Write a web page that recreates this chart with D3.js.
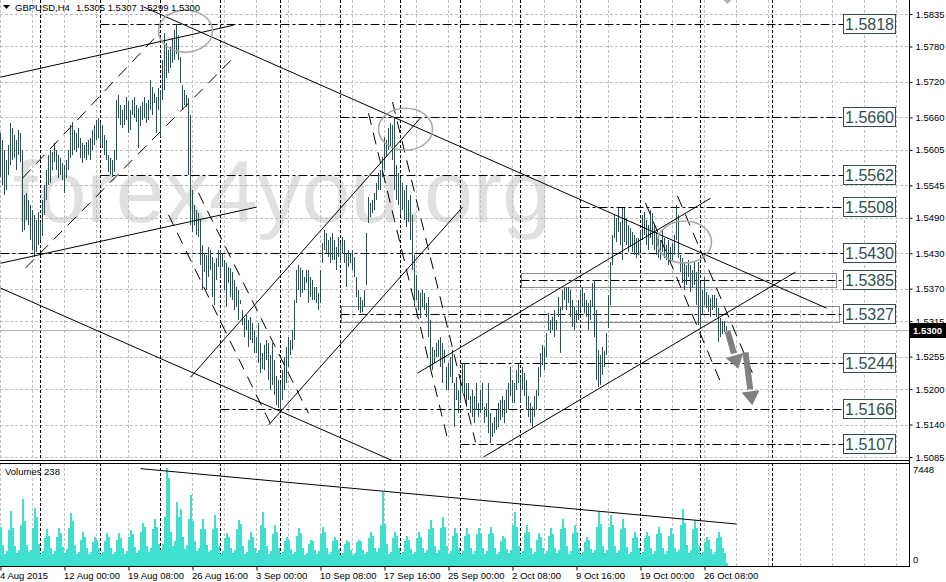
<!DOCTYPE html>
<html><head><meta charset="utf-8">
<script src="https://cdn.jsdelivr.net/npm/d3@7"></script>
<style>
html,body{margin:0;padding:0;background:#fff;}
svg{display:block;font-family:"Liberation Sans",Arial,sans-serif;}
</style></head><body>
<svg id="c" width="946" height="582"></svg>
<script>
// ---------- DATA ----------
const symbolTitle = "GBPUSD,H4";
const ohlcTitle = "1.5305 1.5307 1.5299 1.5300";
const lastPrice = 1.5300;

const highs = [
1.5633,1.5622,1.5605,1.5588,1.5613,1.5650,1.5642,1.5630,1.5622,1.5639,1.5634,1.5605,
1.5529,1.5532,1.5520,1.5512,1.5503,1.5495,1.5486,
1.5500,1.5483,1.5520,1.5545,1.5571,1.5596,
1.5605,1.5601,1.5617,1.5605,1.5596,1.5591,1.5583,1.5579,1.5588,1.5605,1.5647,
1.5652,1.5639,1.5634,1.5642,1.5625,1.5617,1.5613,1.5618,1.5622,1.5625,1.5639,1.5647,1.5656,1.5659,1.5652,
1.5647,1.5630,1.5622,1.5596,1.5591,1.5588,1.5605,1.5689,
1.5698,1.5681,1.5672,1.5681,1.5694,1.5688,1.5672,1.5689,1.5694,1.5681,1.5676,1.5679,1.5686,1.5694,
1.5684,1.5689,1.5723,1.5711,1.5701,1.5694,1.5710,1.5706,1.5757,
1.5803,1.5786,1.5774,1.5779,1.5794,1.5808,1.5818,1.5799,1.5762,
1.5715,1.5706,1.5698,1.5693,1.5664,1.5537,
1.5512,1.5503,1.5498,1.5486,1.5444,
1.5430,1.5427,1.5440,1.5435,1.5424,1.5413,1.5422,
1.5435,1.5435,1.5430,1.5418,1.5413,1.5407,1.5405,1.5398,1.5385,
1.5373,1.5368,1.5351,1.5334,1.5320,1.5325,1.5317,1.5322,
1.5312,1.5300,1.5288,1.5312,1.5278,1.5261,1.5275,1.5283,
1.5278,1.5258,1.5278,1.5249,1.5222,1.5215,1.5210,1.5232,1.5254,
1.5271,1.5288,1.5283,1.5300,1.5351,1.5402,1.5410,1.5405,
1.5402,1.5390,1.5402,1.5402,1.5390,1.5385,1.5373,1.5373,1.5363,
1.5402,1.5448,1.5469,1.5464,1.5452,1.5457,1.5464,
1.5452,1.5440,1.5457,1.5448,1.5457,1.5452,1.5430,1.5435,1.5430,
1.5435,1.5424,1.5390,1.5368,1.5356,1.5351,1.5368,
1.5464,1.5525,1.5515,1.5520,1.5532,1.5549,1.5566,
1.5571,1.5593,1.5627,1.5622,1.5642,1.5650,1.5647,1.5659,1.5579,
1.5566,1.5557,1.5549,1.5537,1.5545,1.5520,1.5528,
1.5495,1.5427,1.5393,1.5368,1.5363,
1.5368,1.5363,1.5346,1.5356,1.5317,
1.5271,1.5266,1.5278,1.5283,1.5288,1.5278,1.5266,1.5237,
1.5244,1.5254,1.5266,1.5210,1.5220,1.5198,1.5210,1.5244,
1.5244,1.5210,1.5210,1.5188,1.5198,1.5188,1.5210,1.5176,1.5198,
1.5210,1.5170,1.5176,1.5210,1.5159,1.5143,1.5153,1.5165,1.5176,1.5182,
1.5188,1.5182,1.5198,1.5210,1.5237,1.5215,
1.5210,1.5232,1.5244,1.5220,1.5237,1.5227,1.5215,
1.5188,1.5176,1.5170,1.5188,1.5198,1.5237,1.5261,1.5275,
1.5271,1.5295,1.5329,1.5317,1.5322,1.5334,1.5317,1.5356,1.5339,
1.5368,1.5373,1.5373,1.5373,1.5368,1.5351,1.5339,1.5334,1.5351,
1.5368,1.5373,1.5363,1.5351,1.5346,1.5351,1.5380,1.5385,1.5334,1.5266,
1.5258,1.5271,1.5264,1.5295,1.5359,1.5415,
1.5461,1.5495,1.5489,1.5506,1.5483,1.5506,1.5506,1.5489,1.5478,1.5472,1.5466,1.5461,1.5456,1.5456,1.5469,
1.5495,1.5500,1.5486,1.5478,1.5503,1.5498,1.5478,1.5466,1.5461,1.5452,
1.5469,1.5456,1.5444,1.5452,1.5440,1.5448,1.5461,
1.5512,1.5495,1.5427,
1.5422,1.5415,1.5410,1.5418,1.5410,1.5402,1.5415,1.5398,
1.5415,1.5380,
1.5368,1.5390,1.5364,1.5359,1.5354,1.5359,
1.5359,1.5354,1.5337,1.5320,1.5315,1.5315,1.5307
];
const lows = [
1.5559,1.5546,1.5529,1.5537,1.5562,1.5579,1.5588,1.5591,1.5571,1.5596,1.5584,1.5466,
1.5469,1.5486,1.5478,1.5452,1.5435,1.5424,1.5432,
1.5444,1.5452,1.5459,1.5495,1.5520,1.5545,
1.5549,1.5571,1.5584,1.5571,1.5557,1.5562,1.5554,1.5532,1.5557,1.5571,1.5591,
1.5596,1.5605,1.5601,1.5608,1.5591,1.5583,1.5591,1.5588,1.5596,1.5588,1.5605,1.5613,1.5622,1.5625,1.5613,
1.5608,1.5596,1.5588,1.5567,1.5562,1.5559,1.5567,1.5588,
1.5659,1.5647,1.5642,1.5647,1.5656,1.5634,1.5639,1.5664,1.5659,1.5652,1.5608,1.5645,1.5656,1.5659,
1.5650,1.5656,1.5672,1.5664,1.5684,1.5634,1.5672,1.5627,1.5689,
1.5706,1.5727,1.5735,1.5744,1.5752,1.5757,1.5767,1.5757,1.5718,
1.5672,1.5681,1.5678,1.5562,1.5478,1.5466,
1.5478,1.5461,1.5457,1.5410,1.5368,
1.5398,1.5368,1.5390,1.5402,1.5356,1.5342,1.5385,
1.5407,1.5390,1.5407,1.5368,1.5339,1.5380,1.5356,1.5351,1.5334,
1.5339,1.5317,1.5344,1.5308,1.5288,1.5300,1.5271,1.5283,
1.5278,1.5261,1.5261,1.5244,1.5227,1.5234,1.5232,1.5249,
1.5215,1.5198,1.5207,1.5190,1.5173,1.5168,1.5165,1.5182,1.5198,
1.5210,1.5237,1.5258,1.5266,1.5283,1.5346,1.5368,1.5356,
1.5363,1.5368,1.5380,1.5346,1.5356,1.5351,1.5351,1.5346,1.5334,
1.5346,1.5413,1.5435,1.5430,1.5424,1.5413,1.5418,
1.5418,1.5402,1.5424,1.5413,1.5430,1.5413,1.5373,1.5407,1.5413,
1.5402,1.5390,1.5356,1.5334,1.5329,1.5331,1.5339,
1.5376,1.5481,1.5491,1.5498,1.5503,1.5520,1.5537,
1.5537,1.5559,1.5571,1.5593,1.5605,1.5610,1.5588,1.5537,1.5520,
1.5512,1.5495,1.5503,1.5486,1.5474,1.5483,1.5452,
1.5402,1.5339,1.5351,1.5334,1.5320,
1.5339,1.5334,1.5322,1.5288,1.5237,
1.5232,1.5244,1.5254,1.5254,1.5237,1.5210,1.5244,1.5198,
1.5198,1.5220,1.5210,1.5136,1.5182,1.5159,1.5176,1.5193,
1.5188,1.5170,1.5182,1.5159,1.5153,1.5143,1.5165,1.5153,1.5159,
1.5165,1.5143,1.5153,1.5126,1.5109,1.5119,1.5126,1.5131,1.5136,1.5148,
1.5153,1.5143,1.5159,1.5165,1.5188,1.5176,
1.5176,1.5198,1.5210,1.5176,1.5198,1.5188,1.5165,
1.5153,1.5143,1.5136,1.5153,1.5165,1.5188,1.5220,1.5241,
1.5232,1.5254,1.5300,1.5295,1.5300,1.5288,1.5300,1.5322,1.5261,
1.5334,1.5351,1.5334,1.5346,1.5322,1.5305,1.5300,1.5312,1.5317,
1.5334,1.5339,1.5329,1.5322,1.5300,1.5317,1.5339,1.5288,1.5215,1.5203,
1.5207,1.5224,1.5237,1.5258,1.5303,1.5342,
1.5410,1.5456,1.5449,1.5466,1.5444,1.5418,1.5449,1.5444,1.5432,1.5440,1.5432,1.5427,1.5422,1.5427,1.5435,
1.5452,1.5461,1.5444,1.5435,1.5456,1.5444,1.5435,1.5427,1.5422,1.5418,
1.5432,1.5422,1.5418,1.5410,1.5413,1.5418,1.5427,
1.5452,1.5422,1.5398,
1.5380,1.5368,1.5376,1.5390,1.5364,1.5371,1.5376,1.5342,
1.5308,1.5303,
1.5325,1.5342,1.5337,1.5331,1.5322,1.5334,
1.5337,1.5322,1.5280,1.5288,1.5293,1.5297,1.5299
];
const volumes = [
3000,1600,
950,1150,2700,4200,2900,1500,
1000,1200,3100,5100,3400,1600,
1050,1250,2900,4400,3700,1700,
950,1150,2100,2800,2300,1400,
900,1150,2200,2900,2500,1450,
1000,1300,2900,4000,3400,1600,
950,1100,2000,2600,2200,1400,
900,1050,1800,2200,2000,1350,
950,1100,1900,2500,2200,1400,
900,1050,2000,2500,2100,1350,
950,1150,2200,2700,2400,1450,
1000,1250,2600,3300,3000,1550,
1050,1350,2800,3600,3000,1700,
1200,1700,3700,7448,6700,2600,
1500,1900,4900,3700,4300,2200,
1300,1600,3600,5400,3400,1900,
1150,1350,2800,3600,2800,1600,
1050,1250,2800,3900,2900,1500,
950,1150,2100,2500,2200,1400,
1000,1200,2800,3500,3200,1500,
950,1100,2000,2600,2200,1400,
1000,1250,3100,4100,2900,1500,
950,1150,2400,3100,2600,1400,
900,1050,1900,2200,2000,1300,
950,1100,2300,2900,2500,1400,
850,1000,1700,2000,1900,1250,
950,1150,2400,3000,2600,1400,
900,1050,1900,2200,2000,1300,
850,1000,1700,2000,1800,1250,
850,1000,1800,2000,1900,1250,
900,1100,2100,2600,2300,1350,
1050,1350,3100,5600,3200,1700,
950,1100,2100,2600,2300,1350,
900,1050,1900,2300,2000,1300,
950,1100,2100,2600,2200,1350,
1000,1200,2800,3500,2900,1500,
1000,1250,2900,3700,3000,1500,
950,1150,2300,2900,2500,1400,
950,1150,2300,2900,2400,1400,
950,1150,2400,2900,2500,1400,
950,1150,2400,3000,2500,1400,
900,1050,1900,2300,2100,1300,
1000,1250,3100,4100,3000,1500,
950,1150,2500,3100,2600,1400,
900,1100,2000,2500,2200,1350,
950,1150,2300,2900,2400,1400,
1000,1200,2800,3600,2900,1500,
950,1150,2500,3100,2600,1400,
900,1050,1800,2200,2000,1300,
1000,1250,3000,4100,3200,1500,
1000,1200,3000,3900,3100,1500,
1000,1200,2800,3600,2900,1450,
900,1100,2100,2600,2200,1350,
900,1100,2100,2600,2300,1350,
950,1150,2400,3000,2500,1400,
950,1150,2300,2900,2400,1400,
1050,1250,3100,4300,3300,1600,
1000,1200,2800,3500,2900,1500,
900,1050,1800,2200,2000,1300,
950,1100,2100,2600,2200,1350,
1000,238
];
const volumeTitle = "Volumes 238";
const volumeMax = 7448;

const priceTicks = [1.5835,1.5780,1.5720,1.5660,1.5605,1.5545,1.5490,1.5430,1.5370,1.5315,1.5255,1.5200,1.5140,1.5085];
const timeTickIdx = [0,32,64,96,128,160,192,224,256,288,320,352];
const timeLabels = ["4 Aug 2015","12 Aug 00:00","19 Aug 08:00","26 Aug 16:00","3 Sep 00:00","10 Sep 08:00","17 Sep 16:00","25 Sep 00:00","2 Oct 08:00","9 Oct 16:00","19 Oct 00:00","26 Oct 08:00"];
const weekSeparators = [20,50,80,110,140,170,200,230,260,290,320,350,386];

// horizontal levels: price, start bar index
const levelPrices = [1.5818,1.5660,1.5562,1.5508,1.5430,1.5385,1.5327,1.5244,1.5166,1.5107];
const levelStart  = [50,170,50,290,0,260,170,230,110,230];
// zones: startIdx, endIdx, top price, bottom price
const zones = [[260,417.5,1.5397,1.5373],[170,419,1.5341,1.5314]];
// trend lines (bar index, price, bar index, price)
const trendLines = [
 [0,1.5728,116.5,1.5816],[71.5,1.5847,413,1.5337],[0,1.5371,196.5,1.5078],[0,1.5413,128,1.5508],
 [95,1.5220,210,1.5659],[134,1.5139,231,1.5508],[208.5,1.5227,355,1.5523],[241.5,1.5085,397.5,1.5398]
];
const dashedTrendLines = [
 [12.5,1.5405,116.5,1.5761],[11,1.5557,80,1.5805],[84,1.5495,136,1.5134],[99,1.5532,154,1.5159],
 [184,1.5667,224,1.5109],[196,1.5686,237.5,1.5110],[322.5,1.5515,361,1.5204],[338.5,1.5527,377.5,1.5215]
];
const ellipses = [[92.5,1.5806],[202.5,1.5640],[342,1.5449]];
const arrows = [[363.5,1.5298,367,1.5257],[372.5,1.5262,375,1.5196]];
const volumeTrend = [70,7400,368,3190];

// ---------- CHART ----------
const svg = d3.select("#c");
const PR = 909, MB = 461, VT = 463, VB = 566;
const x = d3.scaleLinear().domain([0,1]).range([0.5,2.5]);
const y = d3.scaleLinear().domain([1.5085,1.5835]).range([457,14]);
const yv = d3.scaleLinear().domain([0,volumeMax]).range([VB,468]);
const crisp = v => Math.round(v)+0.5;

const defs = svg.append("defs");
defs.append("clipPath").attr("id","cm").append("rect").attr("x",0).attr("y",0).attr("width",PR).attr("height",MB);
defs.append("clipPath").attr("id","cv").append("rect").attr("x",0).attr("y",VT).attr("width",PR).attr("height",VB-VT);

svg.append("rect").attr("width",946).attr("height",582).attr("fill","#fff");

const gm = svg.append("g").attr("clip-path","url(#cm)");
const gv = svg.append("g").attr("clip-path","url(#cv)");

// watermark
gm.append("text").attr("x",13).attr("y",222).attr("font-size",88).attr("fill","#e0e0e0")
  .attr("font-family","'Liberation Sans',Arial,sans-serif").text("forex4you.org");

// grid
const gridIdx = d3.range(0,460,16);
[gm,gv].forEach((g,k)=>{
  g.selectAll(null).data(gridIdx).join("line")
   .attr("x1",d=>crisp(x(d)-0.5)).attr("x2",d=>crisp(x(d)-0.5))
   .attr("y1",k?VT:0).attr("y2",k?VB:MB)
   .attr("stroke","#c0c0c0").attr("stroke-dasharray","3,2");
});
gm.selectAll(null).data(priceTicks).join("line")
  .attr("x1",0).attr("x2",PR).attr("y1",d=>crisp(y(d))).attr("y2",d=>crisp(y(d)))
  .attr("stroke","#c0c0c0").attr("stroke-dasharray","3,2");

// week separators
[gm,gv].forEach((g,k)=>{
  g.selectAll(null).data(weekSeparators).join("line")
   .attr("x1",d=>crisp(x(d)-0.5)).attr("x2",d=>crisp(x(d)-0.5))
   .attr("y1",k?VT:0).attr("y2",k?VB:MB)
   .attr("stroke","#000").attr("stroke-dasharray","3,2");
});

// current price line
gm.append("line").attr("x1",0).attr("x2",PR).attr("y1",crisp(y(lastPrice))).attr("y2",crisp(y(lastPrice)))
  .attr("stroke","#b4b4b4");

// zones
gm.selectAll(null).data(zones).join("rect")
  .attr("x",d=>crisp(x(d[0]))).attr("y",d=>crisp(y(d[2])))
  .attr("width",d=>Math.round(x(d[1])-x(d[0]))).attr("height",d=>Math.round(y(d[3])-y(d[2])))
  .attr("fill","none").attr("stroke","#8c8c8c");

// level lines
const boxX = 843;
gm.selectAll(null).data(levelPrices).join("line")
  .attr("x1",(d,i)=>x(levelStart[i])).attr("x2",boxX)
  .attr("y1",d=>crisp(y(d))).attr("y2",d=>crisp(y(d)))
  .attr("stroke","#000").attr("stroke-dasharray","9,3,3,3");

// price bars
const n = Math.min(highs.length, lows.length);
gm.append("g").selectAll("line").data(d3.range(n)).join("line")
  .attr("x1",i=>x(i)).attr("x2",i=>x(i))
  .attr("y1",i=>Math.round(y(highs[i]))).attr("y2",i=>Math.max(Math.round(y(lows[i])),Math.round(y(highs[i]))+1))
  .attr("stroke","#2f4f4f").attr("stroke-width",1);

// trend lines
gm.selectAll(null).data(trendLines).join("line")
  .attr("x1",d=>x(d[0])).attr("y1",d=>y(d[1])).attr("x2",d=>x(d[2])).attr("y2",d=>y(d[3]))
  .attr("stroke","#000").attr("stroke-width",1);
gm.selectAll(null).data(dashedTrendLines).join("line")
  .attr("x1",d=>x(d[0])).attr("y1",d=>y(d[1])).attr("x2",d=>x(d[2])).attr("y2",d=>y(d[3]))
  .attr("stroke","#000").attr("stroke-width",1).attr("stroke-dasharray","12,8");

// ellipses
gm.selectAll(null).data(ellipses).join("ellipse")
  .attr("cx",d=>x(d[0])).attr("cy",d=>y(d[1])).attr("rx",27).attr("ry",21)
  .attr("fill","none").attr("stroke","#a6a6a6").attr("stroke-width",1.5);

// arrows
arrows.forEach((a,k)=>{
  const x1=x(a[0]),y1=y(a[1]),x2=x(a[2]),y2=y(a[3]);
  const L=Math.hypot(x2-x1,y2-y1),ux=(x2-x1)/L,uy=(y2-y1)/L,px=-uy,py=ux;
  const hl=14, hw=9;
  gm.append("line").attr("x1",x1).attr("y1",y1).attr("x2",x2-ux*2).attr("y2",y2-uy*2)
    .attr("stroke","#808080").attr("stroke-width",6);
  gm.append("polygon").attr("points",[[x2+px*hw,y2+py*hw],[x2-px*hw,y2-py*hw],[x2+ux*hl,y2+uy*hl]].map(p=>p.join(",")).join(" "))
    .attr("fill","#808080");
});
gm.append("polygon").attr("points",[[x(361.5),0],[x(365.5),0],[x(363.5),4]].map(p=>p.join(",")).join(" ")).attr("fill","#b0b0b0");

// level boxes
const lb = svg.append("g");
levelPrices.forEach(p=>{
  const cy = Math.round(y(p));
  lb.append("rect").attr("x",boxX+0.5).attr("y",cy-9.5).attr("width",52).attr("height",19)
    .attr("fill","#fff").attr("stroke","#2f4f4f");
  lb.append("text").attr("x",boxX+26.5).attr("y",cy+6).attr("text-anchor","middle")
    .attr("font-size",16).attr("fill","#2f4f4f").text(p.toFixed(4));
});

// volumes
gv.selectAll(null).data(volumes).join("rect")
  .attr("x",(d,i)=>Math.round(x(i)-0.5)).attr("width",2)
  .attr("y",d=>Math.round(yv(d))).attr("height",d=>VB-Math.round(yv(d)))
  .attr("fill","#40e0d0");
gv.append("line").attr("x1",x(volumeTrend[0])).attr("y1",yv(volumeTrend[1]))
  .attr("x2",x(volumeTrend[2])).attr("y2",yv(volumeTrend[3])).attr("stroke","#000");
svg.append("text").attr("x",5).attr("y",475).attr("font-size",9.5).text(volumeTitle);

// frames
svg.append("line").attr("x1",0).attr("x2",PR).attr("y1",MB-0.5).attr("y2",MB-0.5).attr("stroke","#000");
svg.append("line").attr("x1",0).attr("x2",PR).attr("y1",VT+0.5).attr("y2",VT+0.5).attr("stroke","#000");
svg.append("line").attr("x1",0).attr("x2",PR).attr("y1",VB+0.5).attr("y2",VB+0.5).attr("stroke","#000");
svg.append("line").attr("x1",PR+0.5).attr("x2",PR+0.5).attr("y1",0).attr("y2",VB+1).attr("stroke","#000");

// price axis
const ay = svg.append("g").attr("transform",`translate(${PR+0.5},0)`)
  .call(d3.axisRight(y).tickValues(priceTicks).tickFormat(d=>d.toFixed(4)).tickSize(3).tickPadding(3));
ay.select(".domain").remove();
ay.selectAll("text").attr("font-size",9.5).attr("font-family","'Liberation Sans',Arial,sans-serif");

// last price tag
const lpY = Math.round(y(lastPrice));
svg.append("rect").attr("x",PR+1).attr("y",lpY-7).attr("width",946-PR-1).attr("height",15).attr("fill","#000");
svg.append("text").attr("x",PR+4).attr("y",lpY+4).attr("font-size",9.5).attr("font-weight","bold")
  .attr("fill","#fff").text(lastPrice.toFixed(4));

// volume axis labels
svg.append("text").attr("x",PR+4).attr("y",yv(volumeMax)+5).attr("font-size",9.5).text(volumeMax);
svg.append("text").attr("x",PR+4).attr("y",yv(0)-3).attr("font-size",9.5).text("0");

// time axis
const ax = svg.append("g").attr("transform",`translate(0,${VB+0.5})`)
  .call(d3.axisBottom(x).tickValues(timeTickIdx).tickFormat((d,i)=>timeLabels[i]).tickSize(4).tickPadding(2));
ax.select(".domain").remove();
ax.selectAll("text").attr("text-anchor","start").attr("dx",-1).attr("font-size",9.5)
  .attr("font-family","'Liberation Sans',Arial,sans-serif");

// title
svg.append("polygon").attr("points","3,5 10,5 6.5,9").attr("fill","#000");
svg.append("text").attr("x",15).attr("y",10.5).attr("font-size",9.5).text(symbolTitle);
svg.append("text").attr("x",76).attr("y",10.5).attr("font-size",9.5).text(ohlcTitle);
</script></body></html>
